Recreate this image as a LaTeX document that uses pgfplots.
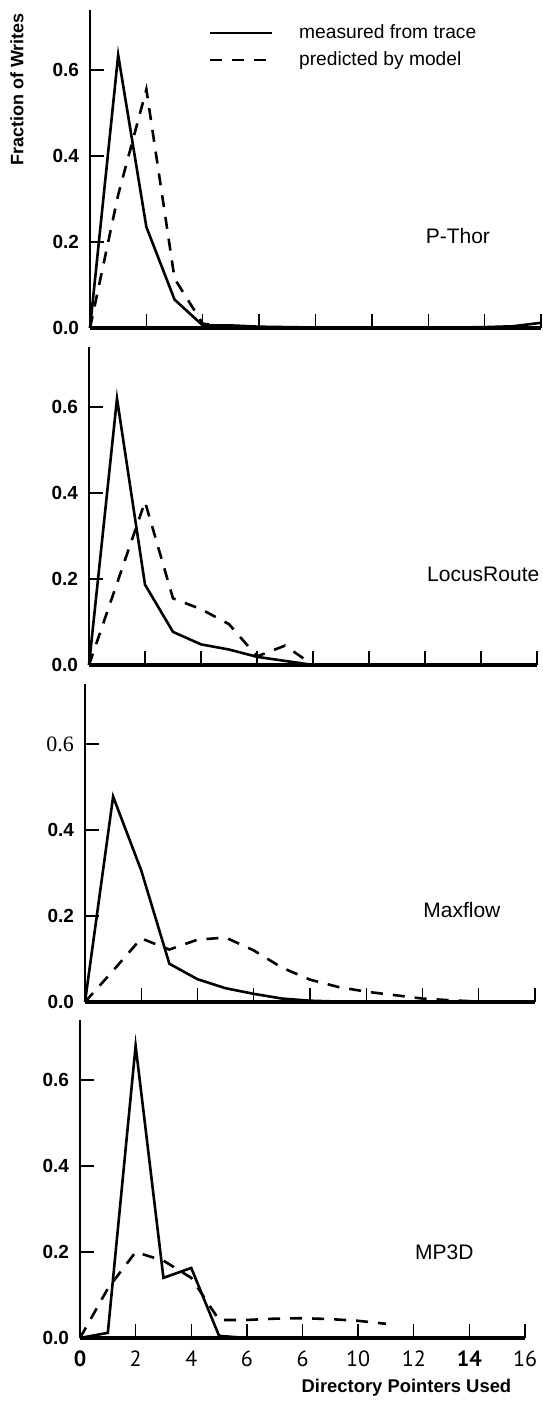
\documentclass[border=0pt]{standalone}
\usepackage{fontspec}
\setmainfont{Liberation Sans}
\newfontfamily\serifnum{Liberation Serif}
\newfontfamily\ptsans{PT Sans}
\usepackage{pgfplots}
\pgfplotsset{compat=1.18}

\pgfplotsset{
  panel/.style={
    scale only axis,
    height=159pt,
    xmin=0, xmax=16, ymin=0, ymax=0.74,
    axis x line*=bottom, axis y line*=left,
    x axis line style={line width=1.6pt},
    y axis line style={line width=1pt},
    xtick={0,2,...,16}, ytick={0,0.2,0.4,0.6},
    xticklabels={}, yticklabels={0.0,0.2,0.4,0.6},
    tick align=inside,
    major tick length=7pt,
    tick style={black, line width=0.7pt},
    yticklabel style={font=\bfseries\fontsize{9.5}{11}\selectfont, xshift=-2pt},
    clip=false,
    every axis plot/.append style={line width=1.3pt, black},
  },
  meas/.style={solid},
  model/.style={dash pattern=on 6pt off 5pt},
}

\begin{document}
\begin{tikzpicture}
\useasboundingbox (0,0) rectangle (271pt,700.5pt);

% ---------- P-Thor ----------
\begin{axis}[panel, at={(45pt,536.5pt)}, anchor=south west, width=225.5pt,
  legend cell align=left,
  legend image code/.code={\draw[#1] (0pt,0pt) -- (31pt,0pt);},
  legend style={draw=none, fill=none, inner sep=0pt, column sep=11pt, row sep=1pt,
    at={(axis description cs:0.262,0.968)}, anchor=north west,
    font=\fontsize{9.6}{11.5}\selectfont}]
\addplot[meas] coordinates {(0,0) (1,0.635) (2,0.235) (3,0.066) (4,0.006) (5,0.006) (6,0.003) (7,0.002) (8,0.001) (9,0.001) (10,0.001) (11,0.001) (12,0.001) (13,0.001) (14,0.002) (15,0.004) (16,0.012)};
\addlegendentry{measured from trace}
\addplot[model] coordinates {(0,0) (1,0.31) (2,0.555) (3,0.115) (4,0.01) (5,0.002) (6,0)};
\addlegendentry{predicted by model}
\node[font=\fontsize{10.5}{12}\selectfont] at (axis cs:13.05,0.214) {P-Thor};
\node[rotate=90, font=\bfseries\fontsize{9}{11}\selectfont] at (axis description cs:-0.162,0.75) {Fraction of Writes};
\end{axis}

% ---------- LocusRoute ----------
\begin{axis}[panel, at={(44.5pt,368pt)}, anchor=south west, width=224pt]
\addplot[meas] coordinates {(0,0) (1,0.62) (2,0.187) (3,0.077) (4,0.048) (5,0.036) (6,0.019) (8,0.0)};
\addplot[model] coordinates {(0,0) (1,0.19) (2,0.38) (3,0.155) (4,0.13) (5,0.095) (6,0.02) (7,0.045) (8,0.0)};
\node[anchor=east, inner sep=0pt, font=\fontsize{10.5}{12}\selectfont] at (axis description cs:1.006,0.285) {LocusRoute};
\end{axis}

% ---------- Maxflow ----------
\begin{axis}[panel, at={(42.5pt,199.5pt)}, anchor=south west, width=225pt,
  yticklabels={0.0,0.2,0.4,{\serifnum\mdseries\fontsize{11}{12}\selectfont 0.6}}]
\addplot[meas] coordinates {(0,0) (1,0.478) (2,0.306) (3,0.089) (4,0.053) (5,0.032) (6,0.019) (7,0.008) (8,0.003) (9,0.001) (10,0)};
\addplot[model] coordinates {(0,0) (1,0.073) (2,0.148) (3,0.122) (4,0.145) (5,0.15) (6,0.12) (7,0.08) (8,0.052) (9,0.035) (10,0.024) (11,0.016) (12,0.008) (13,0.004) (14,0.001)};
\node[font=\fontsize{10.5}{12}\selectfont] at (axis cs:13.4,0.214) {Maxflow};
\end{axis}

% ---------- MP3D ----------
\begin{axis}[panel, at={(40pt,31.5pt)}, anchor=south west, width=222.5pt,
  xticklabels={{\bfseries 0},2,4,6,6,10,12,{\bfseries 14},16},
  xticklabel style={font=\ptsans\fontsize{11}{12}\selectfont, yshift=-3pt}]
\addplot[meas] coordinates {(0,0) (1,0.012) (2,0.68) (3,0.14) (4,0.163) (5,0.005) (6,0)};
\addplot[model] coordinates {(0,0) (1,0.115) (2,0.2) (3,0.18) (4,0.14) (5,0.042) (6,0.042) (7,0.045) (8,0.046) (9,0.044) (10,0.04) (11,0.033)};
\node[font=\fontsize{10.5}{12}\selectfont] at (axis cs:13.1,0.2) {MP3D};
\node[anchor=east, font=\bfseries\fontsize{9.2}{11}\selectfont] at (axis description cs:0.985,-0.157) {Directory Pointers Used};
\end{axis}
\end{tikzpicture}
\end{document}
